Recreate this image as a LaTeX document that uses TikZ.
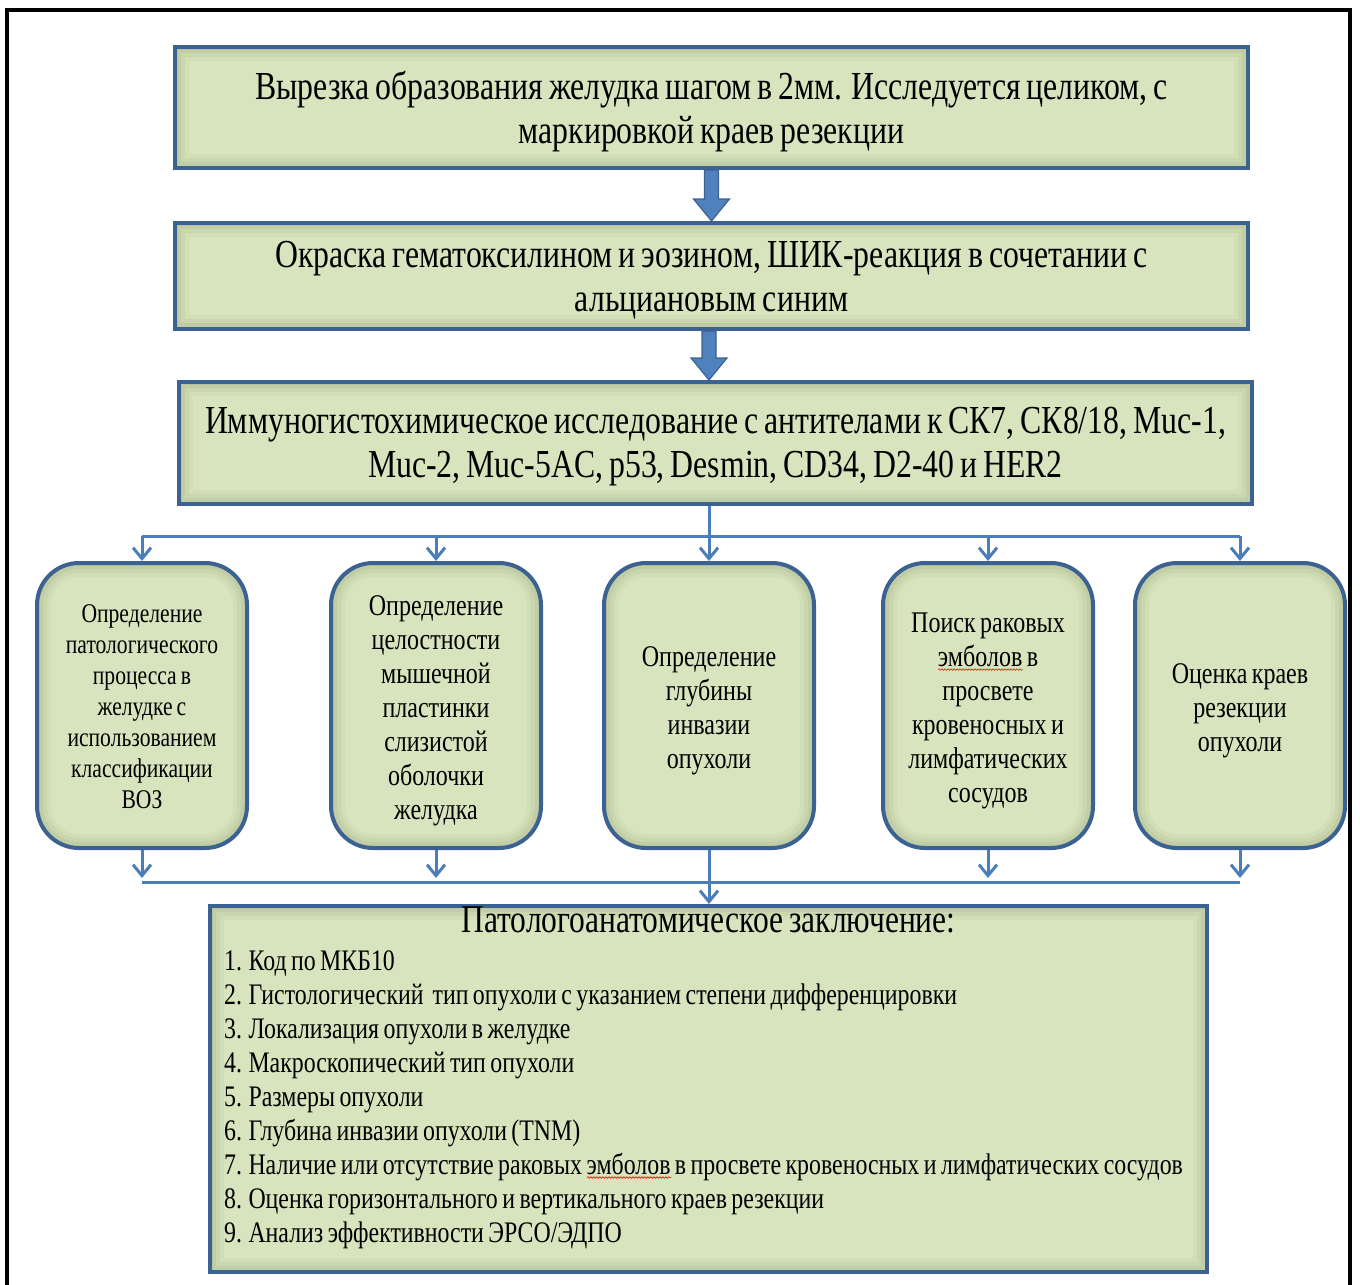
\documentclass[tikz,border=0pt]{standalone}
\usepackage{fontspec}
\setmainfont{Liberation Serif}[FakeStretch=0.8, WordSpace=0.75]
\usetikzlibrary{arrows.meta,calc,decorations.pathmorphing}
\definecolor{boxfill}{HTML}{D7E4BD}
\definecolor{boxline}{HTML}{3C6293}
\definecolor{conn}{HTML}{4A7EBB}
\definecolor{arrowfill}{HTML}{4F81BD}
\definecolor{glow}{HTML}{6F7A45}
\newlength\spwidth
\newcommand\spellerr[1]{\settowidth{\spwidth}{#1}\rlap{\tikz[baseline=0pt]{\path[draw=red, fill=none, line width=0.6pt, sharp corners, decorate, decoration={snake,amplitude=0.8pt,segment length=3pt}] (0pt,-3.5pt) -- (\spwidth,-3.5pt);}}#1}
\tikzset{
  sqbox/.style={draw=boxline, line width=4pt, fill=boxfill, inner sep=0pt,
    minimum width=1073pt,
    path picture={\foreach \w/\o in {28/0.05,20/0.07,12/0.09,5/0.11}{\draw[glow,line width=\w pt,opacity=\o] (path picture bounding box.south west) rectangle (path picture bounding box.north east);}}},
  rbox/.style={draw=boxline, line width=4pt, fill=boxfill, inner sep=0pt,
    rounded corners=42pt, minimum width=210pt, minimum height=285pt,
    path picture={\foreach \w/\o in {28/0.05,20/0.07,12/0.09,5/0.11}{\draw[glow,line width=\w pt,opacity=\o,rounded corners=42pt] (path picture bounding box.south west) rectangle (path picture bounding box.north east);}}},
  lbl/.style={inner sep=0pt, align=center},
  toptext/.style={lbl, font=\fontsize{39.7}{44}\selectfont},
  rtext/.style={lbl, font=\fontsize{30}{34}\selectfont},
  conline/.style={draw=conn, line width=3pt},
  conarrow/.style={conline, -{Straight Barb[length=11pt,width=18pt]}},
  blockarrow/.style={fill=arrowfill, draw=boxline, line width=1.2pt},
  frameline/.style={draw=black, line width=4pt},
}
\begin{document}
\begin{tikzpicture}[x=1pt,y=-1pt]
\useasboundingbox (0,0) rectangle (1360,1285);
\draw[frameline] (6.5,1285) -- (6.5,10) -- (1350,10) -- (1350,1285);

\node[sqbox, minimum height=121pt] (b1) at (711.5,107.5) {};
\node[toptext] (b1t) at ($(b1.center)+(0,4)$)
  {Вырезка образования желудка шагом в 2мм. Исследуется целиком, с\\маркировкой краев резекции};
\node[sqbox, minimum height=106pt] (b2) at (711.5,276) {};
\node[toptext] (b2t) at ($(b2.center)+(0,4)$)
  {Окраска гематоксилином и эозином, ШИК-реакция в сочетании с\\альциановым синим};
\node[sqbox, minimum height=122pt] (b3) at (715.5,443) {};
\node[toptext] (b3t) at ($(b3.center)+(0,4)$)
  {Иммуногистохимическое исследование с антителами к СК7, СК8/18, Muc-1,\\Muc-2, Muc-5AC, p53, Desmin, CD34, D2-40 и HER2};

\node[rbox] (r1) at (142,705.5) {};
\node[lbl, font=\fontsize{27}{31}\selectfont] (r1t) at ($(r1.center)+(0,1.5)$)
  {Определение\\патологического\\процесса в\\желудке с\\использованием\\классификации\\ВОЗ};
\node[rbox] (r2) at (436,705.5) {};
\node[rtext] (r2t) at ($(r2.center)+(0,5)$)
  {Определение\\целостности\\мышечной\\пластинки\\слизистой\\оболочки\\желудка};
\node[rbox] (r3) at (709,705.5) {};
\node[rtext] (r3t) at ($(r3.center)+(0,5)$)
  {Определение\\глубины\\инвазии\\опухоли};
\node[rbox] (r4) at (988,705.5) {};
\node[rtext] (r4t) at ($(r4.center)+(0,5)$)
  {Поиск раковых\\\spellerr{эмболов} в\\просвете\\кровеносных и\\лимфатических\\сосудов};
\node[rbox] (r5) at (1240,705.5) {};
\node[rtext] (r5t) at ($(r5.center)+(0,5)$)
  {Оценка краев\\резекции\\опухоли};

\node[draw=boxline, line width=4pt, fill=boxfill, minimum width=997pt, minimum height=366pt, inner sep=0pt,
    path picture={\foreach \w/\o in {28/0.05,20/0.07,12/0.09,5/0.11}{\draw[glow,line width=\w pt,opacity=\o] (path picture bounding box.south west) rectangle (path picture bounding box.north east);}}] (fin) at (708.5,1089) {};
\node[font=\fontsize{39.4}{44}\selectfont, inner sep=0pt, anchor=base] (title) at ($(fin.north)+(0,28)$) {Патологоанатомическое заключение:};
\node[font=\fontsize{29.8}{34}\selectfont, inner sep=0pt, align=left, anchor=north west] (list) at ($(fin.north west)+(16,46)$)
  {1. Код по МКБ10\\
   2. Гистологический~ тип опухоли с указанием степени дифференцировки\\
   3. Локализация опухоли в желудке\\
   4. Макроскопический тип опухоли\\
   5. Размеры опухоли\\
   6. Глубина инвазии опухоли (TNM)\\
   7. Наличие или отсутствие раковых \spellerr{эмболов} в просвете кровеносных и лимфатических сосудов\\
   8. Оценка горизонтального и вертикального краев резекции\\
   9. Анализ эффективности ЭРСО/ЭДПО};

% block arrows
\path[blockarrow] ($(b1.south)+(-7,0)$) -- ($(b1.south |- b2.north)+(-7,-22)$) -- ($(b1.south |- b2.north)+(-18,-22)$) -- (b1.south |- b2.north) -- ($(b1.south |- b2.north)+(18,-22)$) -- ($(b1.south |- b2.north)+(7,-22)$) -- ($(b1.south)+(7,0)$) -- cycle;
\path[blockarrow] ($(b2.south -| r3.north)+(-7,0)$) -- ($(b3.north -| r3.north)+(-7,-22)$) -- ($(b3.north -| r3.north)+(-18,-22)$) -- (b3.north -| r3.north) -- ($(b3.north -| r3.north)+(18,-22)$) -- ($(b3.north -| r3.north)+(7,-22)$) -- ($(b2.south -| r3.north)+(7,0)$) -- cycle;

% split
\coordinate (split) at ($(b3.south -| r3.north)+(0,30)$);
\draw[conline] (b3.south -| r3.north) -- (split);
\draw[conline] (r1.north |- split) -- (r5.north |- split);
\foreach \r in {r1,r2,r3,r4,r5}{\draw[conarrow] (\r.north |- split) -- (\r.north);}

% join
\coordinate (join) at ($(r3.south)+(0,32)$);
\draw[conline] (r1.south |- join) -- (r5.south |- join);
\foreach \r in {r1,r2,r4,r5}{\draw[conarrow] (\r.south) -- ([yshift=4pt]\r.south |- join);}
\draw[conarrow] (r3.south) -- (fin.north -| r3.south);
\end{tikzpicture}
\end{document}
